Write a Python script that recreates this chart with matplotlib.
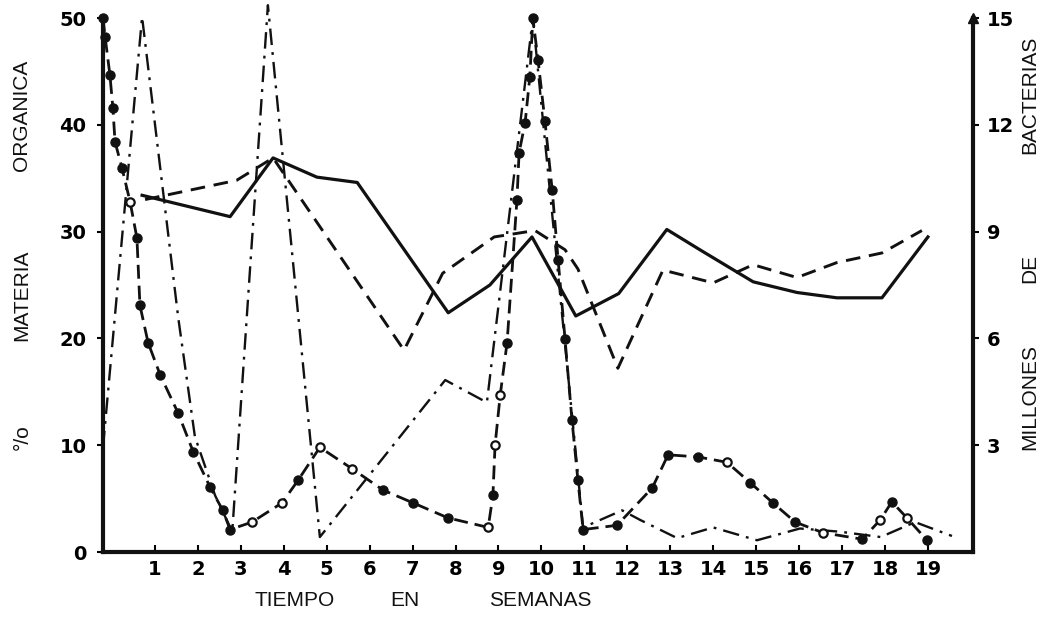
import matplotlib
matplotlib.use('Agg')
import matplotlib.pyplot as plt
import numpy as np

plt.rcParams.update({'font.family': ['Liberation Sans Narrow', 'DejaVu Sans'],
                     'font.size': 14})

# weeks / % organic matter
sol_x = [0.70, 2.75, 3.75, 4.77, 5.71, 7.83, 8.80, 9.78, 10.80, 11.80, 12.92,
         13.69, 14.93, 15.95, 16.88, 17.93, 19.0]
sol_y = [33.4, 31.4, 36.9, 35.1, 34.6, 22.4, 25.0, 29.5, 22.1, 24.2, 30.2,
         28.3, 25.3, 24.3, 23.8, 23.8, 29.5]

das_x = [0.77, 2.90, 3.75, 6.80, 7.70, 8.90, 9.85, 10.55, 10.85, 11.78, 12.83,
         14.0, 14.93, 15.95, 16.88, 17.93, 18.86]
das_y = [33.0, 34.8, 36.9, 18.9, 26.1, 29.5, 30.1, 28.3, 26.5, 17.2, 26.4,
         25.2, 26.9, 25.7, 27.1, 28.0, 30.1]

dd_x = [-0.21, 0.70, 1.54, 1.93, 2.40, 2.80, 3.63, 4.84, 7.76, 8.73, 9.80,
        10.97, 11.88, 12.30, 13.16, 14.0, 15.02, 16.02, 16.95, 17.90, 18.70, 19.56]
dd_y = [9.8, 50.1, 22.0, 10.8, 5.3, 1.9, 51.2, 1.4, 16.1, 14.0, 50.0,
        2.3, 3.9, 3.0, 1.3, 2.3, 1.1, 2.2, 1.9, 1.4, 2.8, 1.5]

# circle series (filled / open points)
cir_x = [-0.21, -0.16, -0.05, 0.02, 0.07, 0.23, 0.42, 0.58, 0.65, 0.84, 1.12,
         1.54, 1.89, 2.28, 2.58, 2.75, 3.26, 3.96, 4.33, 4.84, 5.59, 6.31,
         7.01, 7.82, 8.76, 8.87, 8.92, 9.04, 9.20, 9.43, 9.48, 9.62, 9.73,
         9.80, 9.92, 10.08, 10.25, 10.39, 10.55, 10.71, 10.85, 10.97, 11.76,
         12.58, 12.95, 13.65, 14.32, 14.86, 15.39, 15.91, 16.56, 17.47, 17.89,
         18.16, 18.51, 18.98]
cir_y = [50.0, 48.2, 44.7, 41.6, 38.4, 36.0, 32.8, 29.4, 23.1, 19.6, 16.6,
         13.0, 9.4, 6.1, 3.9, 2.1, 2.8, 4.6, 6.7, 9.8, 7.8, 5.8,
         4.6, 3.2, 2.3, 5.3, 10.0, 14.7, 19.6, 33.0, 37.4, 40.2, 44.5,
         50.0, 46.1, 40.4, 33.9, 27.3, 19.9, 12.4, 6.7, 2.1, 2.5,
         6.0, 9.1, 8.9, 8.4, 6.5, 4.6, 2.8, 1.8, 1.2, 3.0,
         4.7, 3.2, 1.1]
cir_open = [0, 0, 0, 0, 0, 0, 1, 0, 0, 0, 0,
            0, 0, 0, 0, 0, 1, 1, 0, 1, 1, 0,
            0, 0, 1, 0, 1, 1, 0, 0, 0, 0, 0,
            0, 0, 0, 0, 0, 0, 0, 0, 0, 0,
            0, 0, 0, 1, 0, 0, 0, 1, 0, 1,
            0, 1, 0]

weeks = list(range(1, 20))
left_ticks = [0, 10, 20, 30, 40, 50]
right_ticks = [3, 6, 9, 12, 15]

k = '#111111'

fig = plt.figure(figsize=(10.45, 6.26), dpi=100)
ax = fig.add_axes([103/1045, 74/626, 870/1045, 534/626])
ax.set_xlim(-0.21, 20.05)
ax.set_ylim(0, 50)

ax.plot(sol_x, sol_y, color=k, lw=2.3, clip_on=False, zorder=3)
ax.plot(das_x, das_y, color=k, lw=2.1, ls=(0, (5, 3)), clip_on=False, zorder=3)
ax.plot(dd_x, dd_y, color=k, lw=1.7, ls=(0, (7, 3, 1.2, 3)), clip_on=False, zorder=3)
ax.plot(cir_x, cir_y, color=k, lw=2.0, ls=(0, (5, 2.5)), clip_on=False, zorder=4)

cx = np.array(cir_x)
cy = np.array(cir_y)
op = np.array(cir_open, dtype=bool)
ax.plot(cx[~op], cy[~op], 'o', color=k, ms=6.5, clip_on=False, zorder=5)
ax.plot(cx[op], cy[op], 'o', mfc='white', mec=k, mew=1.6, ms=6, clip_on=False, zorder=5)

# axes styling
for s in ['top', 'right']:
    ax.spines[s].set_visible(False)
for s in ['left', 'bottom']:
    ax.spines[s].set_linewidth(3)
    ax.spines[s].set_color(k)

ax.set_xticks(weeks)
ax.set_xticklabels([str(w) for w in weeks], fontweight='bold')
ax.tick_params(axis='x', direction='in', length=5, width=1.5, pad=6, labelsize=14)
ax.set_yticks(left_ticks)
ax.set_yticklabels([str(v) for v in left_ticks], fontweight='bold')
ax.tick_params(axis='y', direction='out', length=4, width=1.5, pad=8, labelsize=14)

ax2 = ax.twinx()
ax2.set_ylim(0, 15)
for s in ['top', 'left', 'bottom']:
    ax2.spines[s].set_visible(False)
ax2.spines['right'].set_linewidth(3)
ax2.spines['right'].set_color(k)
ax2.set_yticks(right_ticks)
ax2.set_yticklabels([str(v) for v in right_ticks], fontweight='bold')
ax2.tick_params(axis='y', direction='out', length=4, width=1.5, pad=6, labelsize=14)
ax2.plot(1, 1, marker='^', color=k, ms=7, transform=ax2.transAxes, clip_on=False)

# axis titles, word by word as in the scan
lab = dict(fontsize=15, color=k, ha='center', va='center',
           family=['Liberation Sans', 'DejaVu Sans'])
fig.text(22/1045, 1 - 437/626, '°/o', rotation=90, **lab)
fig.text(22/1045, 1 - 295/626, 'MATERIA', rotation=90, **lab)
fig.text(22/1045, 1 - 115/626, 'ORGANICA', rotation=90, **lab)

fig.text(1030/1045, 1 - 397/626, 'MILLONES', rotation=90, **lab)
fig.text(1030/1045, 1 - 268/626, 'DE', rotation=90, **lab)
fig.text(1030/1045, 1 - 95/626, 'BACTERIAS', rotation=90, **lab)

fig.text(295/1045, 1 - 600/626, 'TIEMPO', **lab)
fig.text(405/1045, 1 - 600/626, 'EN', **lab)
fig.text(540/1045, 1 - 600/626, 'SEMANAS', **lab)

fig.savefig('out.png', dpi=100)
